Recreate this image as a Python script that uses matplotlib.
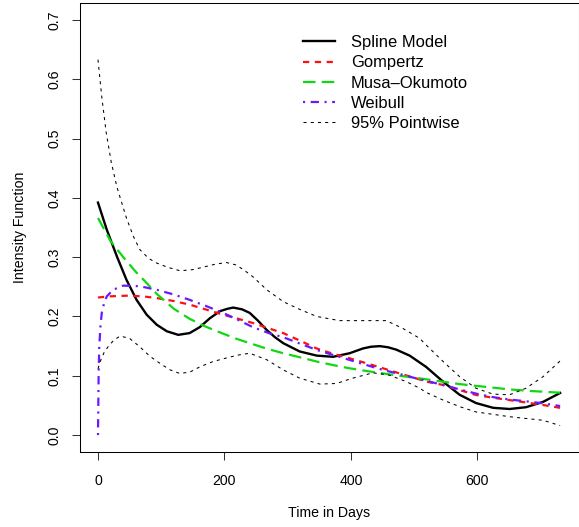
import matplotlib
matplotlib.use("Agg")
import matplotlib.pyplot as plt

# --- datos ---
spline_days = [0, 14, 30, 45, 61, 77, 93, 109, 127, 145, 161, 177, 193, 205, 214, 228,
               240, 253, 267, 280, 293, 319, 346, 372, 398, 419, 432, 446, 459, 472,
               493, 519, 546, 572, 598, 625, 651, 677, 704, 731]
spline_vals = [0.392, 0.346, 0.301, 0.262, 0.228, 0.203, 0.186, 0.175, 0.169, 0.172,
               0.182, 0.197, 0.209, 0.213, 0.215, 0.212, 0.206, 0.193, 0.177, 0.165,
               0.155, 0.141, 0.134, 0.132, 0.138, 0.146, 0.149, 0.150, 0.148, 0.144,
               0.134, 0.115, 0.090, 0.068, 0.054, 0.046, 0.044, 0.047, 0.056, 0.071]

upper_days = [0, 6, 13, 21, 30, 45, 56, 66, 80, 93, 110, 130, 150, 166, 185, 203, 218,
              230, 245, 267, 293, 319, 346, 382, 419, 456, 482, 509, 519, 546, 572,
              598, 625, 651, 677, 704, 731]
upper_vals = [0.633, 0.570, 0.510, 0.460, 0.418, 0.366, 0.335, 0.313, 0.298, 0.290,
              0.283, 0.277, 0.279, 0.283, 0.288, 0.291, 0.287, 0.279, 0.267, 0.245,
              0.225, 0.212, 0.200, 0.193, 0.193, 0.193, 0.180, 0.163, 0.152, 0.124,
              0.0985, 0.079, 0.069, 0.068, 0.079, 0.0985, 0.125]

lower_days = [0, 5, 10, 16, 25, 35, 50, 66, 82, 98, 114, 129, 145, 161, 182, 203, 222,
              240, 267, 293, 319, 351, 377, 403, 435, 461, 488, 509, 519, 546, 572,
              598, 625, 651, 677, 704, 731]
lower_vals = [0.112, 0.128, 0.140, 0.149, 0.160, 0.167, 0.163, 0.149, 0.133, 0.121,
              0.110, 0.104, 0.106, 0.115, 0.124, 0.130, 0.135, 0.138, 0.127, 0.110,
              0.096, 0.086, 0.087, 0.096, 0.105, 0.101, 0.090, 0.079, 0.072, 0.059,
              0.048, 0.039, 0.035, 0.031, 0.028, 0.025, 0.016]

gomp_days = [0, 20, 45, 70, 93, 120, 145, 170, 198, 222, 245, 270, 293, 320, 346, 372,
             398, 425, 451, 477, 503, 520, 546, 572, 598, 625, 651, 677, 704, 731]
gomp_vals = [0.232, 0.234, 0.235, 0.234, 0.231, 0.226, 0.220, 0.212, 0.203, 0.196,
             0.189, 0.180, 0.172, 0.159, 0.146, 0.137, 0.1295, 0.121, 0.1126, 0.104,
             0.0957, 0.090, 0.0845, 0.076, 0.0676, 0.063, 0.059, 0.055, 0.0507, 0.046]

musa_days = [0, 20, 40, 60, 72, 93, 120, 145, 170, 198, 220, 240, 266, 293, 320, 346,
             372, 398, 425, 451, 477, 503, 546, 572, 598, 625, 651, 690, 731]
musa_vals = [0.366, 0.327, 0.300, 0.275, 0.262, 0.238, 0.213, 0.196, 0.183, 0.171,
             0.162, 0.155, 0.146, 0.138, 0.131, 0.124, 0.118, 0.1126, 0.108, 0.104,
             0.100, 0.0965, 0.090, 0.086, 0.083, 0.080, 0.077, 0.074, 0.0715]

weib_days = [0, 1, 2, 4, 6, 10, 14, 24, 40, 66, 93, 120, 145, 170, 198, 220, 245, 270,
             293, 320, 346, 372, 398, 425, 451, 477, 503, 546, 572, 598, 625, 651, 677,
             704, 731]
weib_vals = [0.0, 0.10, 0.149, 0.185, 0.206, 0.224, 0.234, 0.245, 0.252, 0.251, 0.245,
             0.237, 0.228, 0.218, 0.206, 0.195, 0.182, 0.172, 0.165, 0.154, 0.1436,
             0.135, 0.1267, 0.118, 0.1098, 0.103, 0.0957, 0.0845, 0.077, 0.070, 0.064,
             0.060, 0.057, 0.0535, 0.049]

x_ticks = [0, 200, 400, 600]
y_ticks = [0.0, 0.1, 0.2, 0.3, 0.4, 0.5, 0.6, 0.7]

plt.rcParams['font.family'] = ['Liberation Sans', 'DejaVu Sans']
plt.rcParams['lines.scale_dashes'] = False
plt.rcParams['lines.solid_joinstyle'] = 'round'

W, H = 579, 527
fig = plt.figure(figsize=(W / 100, H / 100), dpi=100)
ax = fig.add_axes([79.5 / W, 75.3 / H, 499.1 / W, 448.4 / H])

ax.plot(spline_days, spline_vals, color='black', lw=1.7, label='Spline Model')
ax.plot(gomp_days, gomp_vals, color='#FF1010', lw=1.6, dashes=(4.5, 4.0), label='Gompertz')
ax.plot(musa_days, musa_vals, color='#10D810', lw=1.6, dashes=(9.0, 4.5), label='Musa\u2013Okumoto')
ax.plot(weib_days, weib_vals, color='#6A1AFF', lw=1.6, dashes=(1.5, 4.0, 6.0, 4.0), label='Weibull')
ax.plot(upper_days, upper_vals, color='black', lw=0.75, dashes=(2.2, 3.0), label='95% Pointwise')
ax.plot(lower_days, lower_vals, color='black', lw=0.75, dashes=(2.2, 3.0))

rng = 731
ax.set_xlim(-0.04 * rng, rng * 1.04)
ax.set_ylim(-0.028, 0.728)
ax.set_xticks(x_ticks)
ax.set_yticks(y_ticks)
ax.set_yticklabels([f'{v:.1f}' for v in y_ticks], rotation=90, va='center')
ax.tick_params(length=5.8, width=0.75, labelsize=10.2, color='#333333')
ax.tick_params(axis='x', pad=10.3)
ax.tick_params(axis='y', pad=7.5)
for s in ax.spines.values():
    s.set_linewidth(0.75)

ax.set_xlabel('Time in Days', fontsize=10.2, labelpad=12.7)
ax.set_ylabel('Intensity Function', fontsize=10.2, labelpad=14.3)

ax.legend(loc='upper left', bbox_to_anchor=(303 / W, 1 - 35 / H),
          bbox_transform=fig.transFigure, frameon=False, fontsize=11.9,
          borderpad=0, borderaxespad=0, handlelength=1.94, handletextpad=0.97,
          labelspacing=0.32)

fig.savefig('out.png', dpi=100)
